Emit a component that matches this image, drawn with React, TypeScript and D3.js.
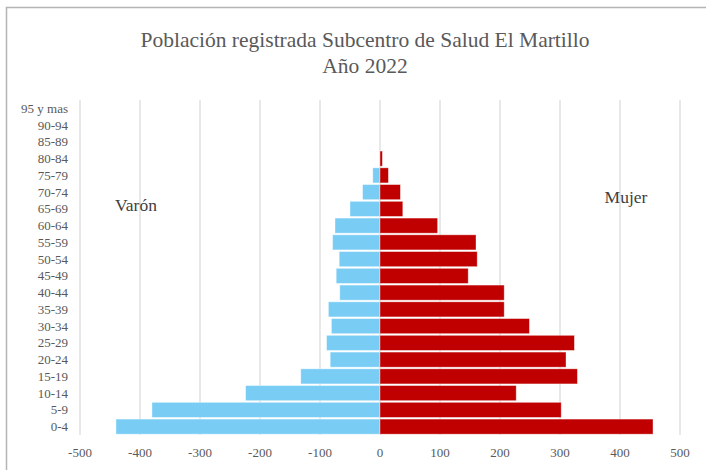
import { useMemo } from 'react'
import { scaleLinear, scaleBand, range } from 'd3'

// Age groups, youngest first
const ageGroups = [
  '0-4', '5-9', '10-14', '15-19', '20-24', '25-29', '30-34', '35-39', '40-44', '45-49',
  '50-54', '55-59', '60-64', '65-69', '70-74', '75-79', '80-84', '85-89', '90-94', '95 y mas',
]
// Males (drawn to the left as negatives)
const varon = [440, 380, 224, 132, 83, 89, 81, 86, 67, 73, 68, 79, 75, 50, 29, 12, 0, 0, 0, 0]
// Females
const mujer = [455, 302, 227, 329, 310, 324, 249, 207, 207, 147, 162, 160, 96, 38, 34, 14, 4, 0, 0, 0]
const xTicks = range(-500, 501, 100)

const W = 706
const H = 470
const FONT = '"Liberation Serif", "DejaVu Serif", serif'
const BLUE = '#79cdf5'
const RED = '#c00000'

export default function App() {
  const x = useMemo(() => scaleLinear().domain([-500, 500]).range([80, 680]), [])
  const y = useMemo(
    () => scaleBand<string>().domain([...ageGroups].reverse()).range([100, 435]).paddingInner(0.1).paddingOuter(0.05),
    []
  )
  const bw = y.bandwidth()

  return (
    <div style={{ position: 'absolute', left: 0, top: 0 }}>
      <svg width={W} height={H} style={{ display: 'block', background: '#fff' }}>
        {/* chart frame */}
        <rect x={6.5} y={7.5} width={730} height={500} fill="none" stroke="#b4b4b4" strokeWidth={1.5} />

        <text x={365} y={47} textAnchor="middle" fontFamily={FONT} fontSize={21.5} fill="#595959">
          Población registrada Subcentro de Salud El Martillo
        </text>
        <text x={365} y={73} textAnchor="middle" fontFamily={FONT} fontSize={21.5} fill="#595959">
          Año 2022
        </text>

        {/* vertical gridlines */}
        {xTicks.map((t) => (
          <line key={t} x1={x(t)} x2={x(t)} y1={100} y2={435} stroke="#d9d9d9" strokeWidth={1.2} />
        ))}

        {/* bars */}
        {ageGroups.map((g, i) => (
          <g key={g}>
            {varon[i] > 0 && (
              <rect x={x(-varon[i])} y={y(g)} width={x(0) - x(-varon[i])} height={bw}
                fill={BLUE} stroke="#fff" strokeOpacity={0.45} strokeWidth={0.8} />
            )}
            {mujer[i] > 0 && (
              <rect x={x(0)} y={y(g)} width={x(mujer[i]) - x(0)} height={bw}
                fill={RED} stroke="#fff" strokeOpacity={0.45} strokeWidth={0.8} />
            )}
          </g>
        ))}

        {/* y axis labels */}
        {ageGroups.map((g) => (
          <text key={g} x={68} y={(y(g) ?? 0) + bw / 2} dy="0.35em" textAnchor="end"
            fontFamily={FONT} fontSize={13} fill="#595959">
            {g}
          </text>
        ))}

        {/* x axis labels */}
        {xTicks.map((t) => (
          <text key={t} x={x(t)} y={457} textAnchor="middle" fontFamily={FONT} fontSize={13} fill="#595959">
            {t}
          </text>
        ))}

        <text x={136} y={211} textAnchor="middle" fontFamily={FONT} fontSize={17.5} fill="#404040">Varón</text>
        <text x={626} y={203} textAnchor="middle" fontFamily={FONT} fontSize={17.5} fill="#404040">Mujer</text>
      </svg>
    </div>
  )
}
